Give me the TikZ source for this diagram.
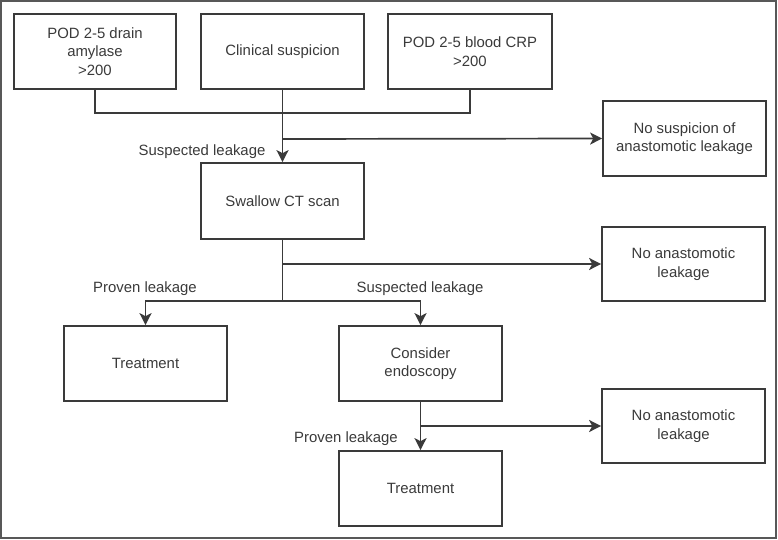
\documentclass[tikz,border=0pt]{standalone}
\usepackage{fontspec}
\setmainfont{Liberation Sans}
\usetikzlibrary{arrows.meta}
\definecolor{ink}{HTML}{3A3A3A}
\begin{document}
\begin{tikzpicture}[x=1pt,y=-1pt,
  box/.style={draw=ink,line width=1.7pt,text=ink,align=center,minimum width=163pt,minimum height=75pt,inner sep=2pt,font=\fontsize{14.9}{18.5}\selectfont},
  lbl/.style={text=ink,font=\fontsize{14.9}{18.5}\selectfont,inner sep=0pt},
  conn/.style={draw=ink,line width=1.7pt},
  arr/.style={conn,-{Stealth[length=12pt,width=12pt,inset=3pt]}}]
\useasboundingbox (0,0) rectangle (778,540);
\draw[draw=ink!85,line width=2pt] (1,1) rectangle (776,538);
\node[box,minimum width=162pt] (b1) at (95,51.5) {POD 2-5 drain\\amylase\\>200};
\node[box] (b2) at (282.5,51.5) {Clinical suspicion};
\node[box,minimum width=164pt] (b3) at (470,51.5) {POD 2-5 blood CRP\\>200};
\node[box] (ns) at (684.5,138.5) {No suspicion of\\anastomotic leakage};
\node[box,minimum height=76pt] (ct) at (282.5,201) {Swallow CT scan};
\node[box,minimum height=74pt] (na1) at (683.5,264) {No anastomotic\\leakage};
\node[box] (t1) at (145.5,363.5) {Treatment};
\node[box] (en) at (420.5,363.5) {Consider\\endoscopy};
\node[box,minimum height=74pt] (na2) at (683.5,426) {No anastomotic\\leakage};
\node[box] (t2) at (420.5,488.5) {Treatment};
\coordinate (j1) at (282.5,113);
\coordinate (j2) at (282.5,139);
\coordinate (j3) at (282.5,264);
\coordinate (j4) at (282.5,301);
\coordinate (j5) at (420.5,426);
\draw[conn] (b1.south) |- (j1) -| (b3.south);
\draw[arr] (b2.south) -- (ct.north);
\draw[arr] (j2) -- (ns.west);
\draw[conn] (ct.south) -- (j4);
\draw[arr] (j3) -- (na1.west);
\draw[arr] (j4) -| (t1.north);
\draw[arr] (j4) -| (en.north);
\draw[arr] (en.south) -- (t2.north);
\draw[arr] (j5) -- (na2.west);
\node[lbl] (l1) at (202,152) {Suspected leakage};
\node[lbl] (l2) at (145,289) {Proven leakage};
\node[lbl] (l3) at (420,289) {Suspected leakage};
\node[lbl] (l4) at (346,439) {Proven leakage};
\end{tikzpicture}
\end{document}
